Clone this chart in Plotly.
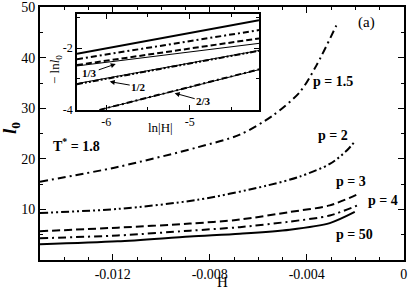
import plotly.graph_objects as go

# ---------------- data ----------------
H_p15 = [-0.015, -0.0118, -0.0085, -0.00676, -0.00539, -0.00429, -0.0036, -0.00278]
l0_p15 = [15.5, 18.4, 22.3, 24.8, 28.6, 33.2, 38.5, 46.4]

H_p2 = [-0.015, -0.0118, -0.0085, -0.00566, -0.00429, -0.00305, -0.00236, -0.00199]
l0_p2 = [9.3, 10.1, 11.9, 14.7, 16.5, 19.0, 21.6, 23.6]

H_p3 = [-0.015, -0.0118, -0.00882, -0.00676, -0.0047, -0.00305, -0.00181]
l0_p3 = [5.7, 6.4, 7.2, 8.0, 9.5, 10.8, 13.2]

H_p4 = [-0.015, -0.0118, -0.00882, -0.00676, -0.0047, -0.00305, -0.00181]
l0_p4 = [4.3, 4.85, 5.8, 6.5, 7.6, 8.8, 11.0]

H_p50 = [-0.015, -0.0118, -0.00882, -0.00676, -0.0047, -0.00305, -0.00202]
l0_p50 = [3.1, 3.7, 4.65, 5.2, 6.0, 7.3, 9.5]

# inset: -ln l0 vs ln|H|
lnH_in = [-6.35, -4.17]
in_p50 = [-2.19, -1.10]
in_p4 = [-2.36, -1.42]
in_p3 = [-2.55, -1.69]
in_ref13 = [-2.58, -1.85]
in_p2 = [-3.17, -2.09]
in_ref12 = [-3.15, -2.08]
lnH_in15 = [-6.08, -4.17]
in_p15 = [-4.0, -2.69]
in_ref23 = [-4.0, -2.70]

x_ticks = [-0.012, -0.008, -0.004, 0]
x_ticktext = ["-0.012", "-0.008", "-0.004", "0"]
y_ticks = [10, 20, 30, 40, 50]
in_x_ticks = [-6, -5]
in_x_ticktext = ["-6", "-5"]
in_y_ticks = [-4, -2]
in_y_ticktext = ["-4", "-2"]

# ---------------- figure ----------------
W, Hh = 409, 289
L, R, T, B = 40, 5, 7, 29
SERIF = "Liberation Serif"


def px(x):
    return (x - L) / (W - L - R)


def py(y):
    return (Hh - B - y) / (Hh - T - B)


fig = go.Figure()

DASHDOT = "8px,4px,2px,4px"
DASHDOTDOT = "8px,3px,2px,3px,2px,3px"
DASH = "8px,4px"

main = [
    (H_p15, l0_p15, DASHDOT),
    (H_p2, l0_p2, DASHDOTDOT),
    (H_p3, l0_p3, DASH),
    (H_p4, l0_p4, DASHDOT),
    (H_p50, l0_p50, "solid"),
]
for xs, ys, d in main:
    fig.add_trace(go.Scatter(x=xs, y=ys, mode="lines",
                             line=dict(color="black", width=2, dash=d, shape="spline",
                                       smoothing=0.8),
                             showlegend=False, hoverinfo="skip"))

inset = [
    (lnH_in, in_p50, "solid", 2),
    (lnH_in, in_p4, "6px,3px,2px,3px", 2),
    (lnH_in, in_p3, "6px,3px", 2),
    (lnH_in, in_ref13, "solid", 1),
    (lnH_in, in_p2, "6px,2px,2px,2px,2px,2px", 2),
    (lnH_in, in_ref12, "solid", 1),
    (lnH_in15, in_p15, "6px,3px,2px,3px", 2),
    (lnH_in15, in_ref23, "solid", 1),
]
for xs, ys, d, w in inset:
    fig.add_trace(go.Scatter(x=xs, y=ys, mode="lines", xaxis="x2", yaxis="y2",
                             line=dict(color="black", width=w, dash=d),
                             showlegend=False, hoverinfo="skip"))

axis_common = dict(showline=True, linecolor="black", linewidth=2, mirror="ticks",
                   ticks="inside", tickcolor="black", zeroline=False, showgrid=False,
                   automargin=False)

fig.update_layout(
    width=W, height=Hh,
    margin=dict(l=L, r=R, t=T, b=B),
    paper_bgcolor="white", plot_bgcolor="white",
    font=dict(family=SERIF, color="black", size=14),
    xaxis=dict(range=[-0.015, 0.00001], tickvals=x_ticks, ticktext=x_ticktext,
               ticklen=6, tickwidth=1,
               minor=dict(dtick=0.001, ticks="inside", ticklen=3, tickcolor="black"),
               tickfont=dict(size=14, family=SERIF), **axis_common),
    yaxis=dict(range=[0, 50.05], tickvals=y_ticks, ticklen=6, tickwidth=1,
               minor=dict(dtick=5, ticks="inside", ticklen=3, tickcolor="black"),
               tickfont=dict(size=14, family=SERIF), **axis_common),
    xaxis2=dict(domain=[px(77), px(259)], anchor="y2", range=lnH_in,
                tickvals=in_x_ticks, ticktext=in_x_ticktext, ticklen=5,
                minor=dict(dtick=0.5, ticks="inside", ticklen=3, tickcolor="black"),
                tickfont=dict(size=12, family=SERIF), automargin=False,
                showline=True, linecolor="black", linewidth=1.5, mirror="ticks",
                ticks="inside", tickcolor="black", zeroline=False, showgrid=False),
    yaxis2=dict(domain=[py(110), py(14)], anchor="x2", range=[-4.005, -0.9],
                tickvals=in_y_ticks, ticktext=in_y_ticktext, ticklen=5,
                minor=dict(dtick=1, ticks="inside", ticklen=3, tickcolor="black"),
                tickfont=dict(size=12, family=SERIF), automargin=False,
                showline=True, linecolor="black", linewidth=1.5, mirror="ticks",
                ticks="inside", tickcolor="black", zeroline=False, showgrid=False),
)

ann = []


def txt(x, y, s, size=13, angle=0, xanchor="center"):
    ann.append(dict(x=px(x), y=py(y), xref="paper", yref="paper", text=s,
                    showarrow=False, textangle=angle, xanchor=xanchor, yanchor="middle",
                    font=dict(family=SERIF, size=size, color="black")))


txt(366, 23, "(a)", 15)
txt(333, 82, "<b>p = 1.5</b>", 14)
txt(333, 135, "<b>p = 2</b>", 14)
txt(351, 181, "<b>p = 3</b>", 14)
txt(383, 200, "<b>p = 4</b>", 14)
txt(354, 234, "<b>p = 50</b>", 14)
txt(76, 145, "<b>T<sup>*</sup> = 1.8</b>", 14)
txt(222, 281.5, "H", 15)
txt(11, 128, "<b><i>l</i><sub>0</sub></b>", 19, angle=-90)
txt(160, 127, "ln|H|", 13)
txt(55, 70, "− ln<i>l</i><sub>0</sub>", 13, angle=-90)

# slope arrows in inset
for (xh, yh, s, ax, ay) in [(-5.886, -2.516, "<b>1/3</b>", -26, 9),
                            (-5.958, -3.087, "<b>1/2</b>", 29, 5),
                            (-5.18, -3.46, "<b>2/3</b>", 29, 8)]:
    ann.append(dict(x=xh, y=yh, xref="x2", yref="y2", text=s, showarrow=True,
                    ax=ax, ay=ay, arrowhead=2, arrowsize=1, arrowwidth=1,
                    arrowcolor="black",
                    font=dict(family=SERIF, size=11, color="black")))

fig.update_layout(annotations=ann)

fig.write_html("out.html", config={"displayModeBar": False},
               post_script="document.body.style.margin='0';document.body.style.overflow='hidden';")
